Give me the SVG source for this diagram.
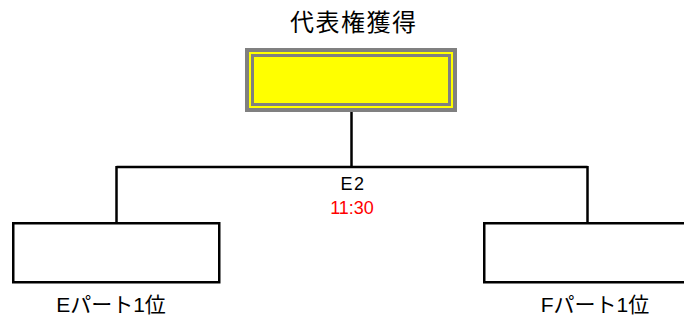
<svg xmlns="http://www.w3.org/2000/svg" width="684" height="325" viewBox="0 0 684 325">
<style>
.t{font-family:"Liberation Sans","Noto Sans CJK JP",sans-serif;fill:#000;text-anchor:middle}
.box{fill:#fff;stroke:#000;stroke-width:2.5}
.ln{fill:none;stroke:#000;stroke-width:2.5}
</style>
<rect width="684" height="325" fill="#fff"/>
<g id="connectors">
<path class="ln" d="M351.5 110V167M116.5 167H587.5M116.5 166V223M587.5 166V223"/>
</g>
<g id="winner">
<text class="t" x="353" y="31" font-size="24" style="font-family:'Noto Sans CJK JP',sans-serif" textLength="126" lengthAdjust="spacing">代表権獲得</text>
<rect x="247" y="50" width="208" height="60" fill="#ffff00" stroke="#808080" stroke-width="4"/>
<rect x="252.5" y="55.5" width="197" height="49" fill="none" stroke="#808080" stroke-width="3"/>
</g>
<g id="match">
<text class="t" x="353" y="190" font-size="18" letter-spacing="1.5">E2</text>
<text class="t" x="352" y="214" font-size="18" style="fill:#ff0000">11:30</text>
</g>
<g id="left">
<rect class="box" x="13.25" y="223.25" width="206" height="59"/>
<text class="t" x="111" y="312" font-size="21">Eパート1位</text>
</g>
<g id="right">
<rect class="box" x="484.25" y="223.25" width="210" height="59"/>
<text class="t" x="595" y="312" font-size="21">Fパート1位</text>
</g>
</svg>
